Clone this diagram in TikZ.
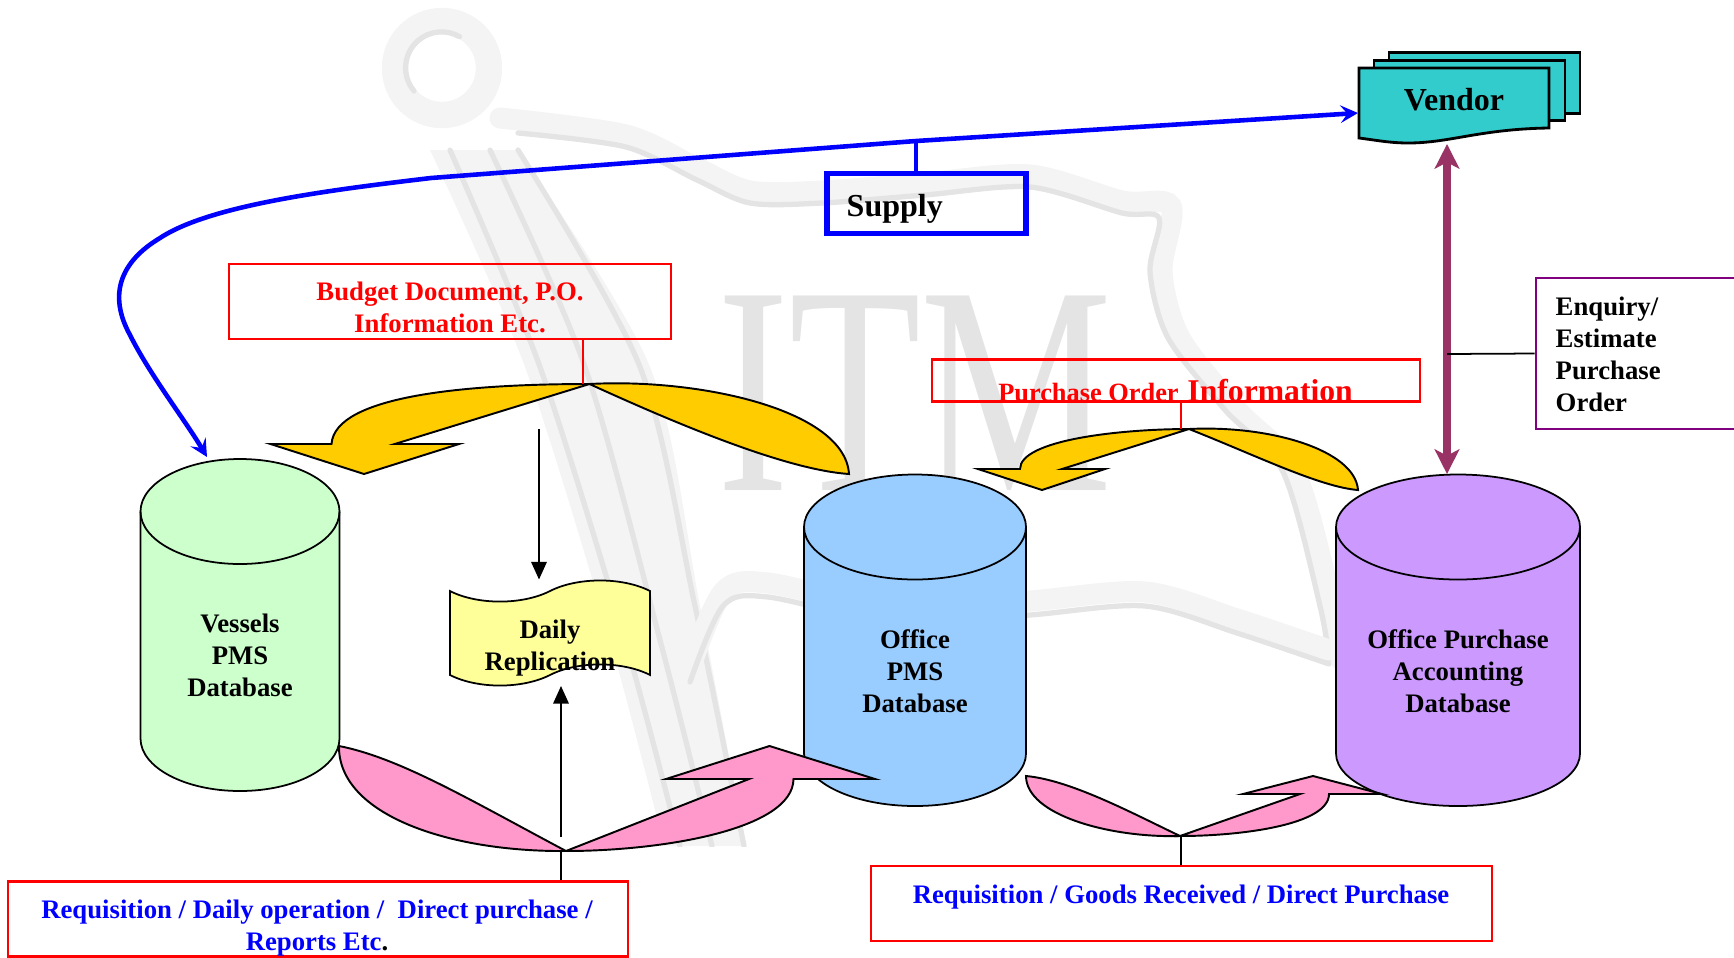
\documentclass[tikz,border=0pt]{standalone}
\usepackage{fontspec}
\setmainfont{Liberation Serif}
\usepackage{tikz}
\usetikzlibrary{arrows.meta,shapes.symbols}
\definecolor{dbgreen}{RGB}{204,255,204}
\definecolor{dbblue}{RGB}{153,204,255}
\definecolor{dbpurple}{RGB}{204,153,255}
\definecolor{tapeyellow}{RGB}{255,255,153}
\definecolor{arrowgold}{RGB}{255,204,0}
\definecolor{arrowpink}{RGB}{255,153,204}
\definecolor{vendorteal}{RGB}{51,204,204}
\definecolor{linkplum}{RGB}{153,51,102}
\definecolor{boxpurple}{RGB}{128,0,128}
\definecolor{markgray}{RGB}{228,228,228}
\definecolor{marklight}{RGB}{244,244,244}
\tikzstyle{boldtext} = [font=\fontsize{7.6}{9.1}\selectfont\bfseries, align=center]
\tikzstyle{redbox} = [rectangle, draw=red, line width=0.6pt]
\tikzstyle{bigarrow} = [draw=black, line width=0.55pt, line join=miter, miter limit=8]
\tikzstyle{vendorbox} = [rectangle, draw=black, line width=0.8pt, fill=vendorteal]
\tikzstyle{thinlink} = [draw=black, line width=0.5pt]
\tikzstyle{faintmark} = [draw=markgray, line width=1.5pt, line cap=round]
\tikzstyle{faintband} = [draw=marklight, line width=6pt, line cap=round]
\begin{document}
\begin{tikzpicture}[x=0.01cm,y=-0.01cm]
    \useasboundingbox (0,0) rectangle (1734,957);
    \clip (0,0) rectangle (1734,957);

    % Faint anchor mark behind everything
    \begin{scope}
        \clip (0,0) rectangle (1734,846);
        \draw[faintband, line width=7.5pt] (442,68) circle (47);
        \draw[faintmark] (414,91) arc (140:300:36);
        \fill[marklight] plot[smooth] coordinates {(430,150) (525,367) (610,640) (664,846)} -- plot[smooth] coordinates {(746,846) (700,606) (650,367) (518,150)} -- cycle;
        \draw[faintmark] plot[smooth] coordinates {(450,150) (540,367) (625,640) (680,846)};
        \draw[faintmark] plot[smooth] coordinates {(490,150) (585,367) (660,640) (712,846)};
        \draw[faintmark] plot[smooth] coordinates {(518,150) (640,367) (695,606) (744,846)};
        \draw[faintband] plot[smooth] coordinates {(500,118) (626,135) (697,168) (750,191) (822,191) (925,183) (1030,175) (1122,201) (1171,206) (1162,272) (1180,338) (1237,410) (1295,472) (1332,606) (1341,660)};
        \draw[faintmark] plot[smooth] coordinates {(518,133) (626,147) (697,180) (750,203) (822,203) (925,195) (1030,187) (1122,213) (1159,218) (1150,272) (1168,338) (1225,410) (1283,472) (1320,606) (1329,660)};
        \draw[faintband] plot[smooth] coordinates {(690,668) (723,592) (768,583) (900,610) (1030,601) (1145,592) (1237,619) (1329,650)};
        \draw[faintmark] plot[smooth] coordinates {(690,682) (723,606) (768,597) (900,624) (1030,615) (1145,606) (1237,633) (1329,664)};
        \node[text=markgray, font=\fontsize{84.5}{84.5}\selectfont, xscale=0.726, anchor=base, inner sep=0pt] (logo) at (915,490) {ITM};
    \end{scope}

    % Databases
    \foreach \cx/\rx/\ytop/\ybot/\col in {240/99.5/459/791/dbgreen,915/111/474.5/806/dbblue,1458/122/474.5/806/dbpurple}
    {
        \draw[black, line width=0.5pt, fill=\col] (\cx-\rx,\ytop+52.5) arc[start angle=180, end angle=360, x radius=\rx, y radius=52.5] -- (\cx+\rx,\ybot-52.5) arc[start angle=0, end angle=180, x radius=\rx, y radius=52.5] -- cycle;
        \draw[black, line width=0.5pt] (\cx+\rx,\ytop+52.5) arc[start angle=0, end angle=180, x radius=\rx, y radius=52.5];
    }
    \node[boldtext] (vessels) at (240,655) {Vessels\\PMS\\Database};
    \node[boldtext] (office) at (915,671) {Office\\PMS\\Database};
    \node[boldtext] (account) at (1458,671) {Office Purchase\\Accounting\\Database};

    % Daily replication tape
    \node[tape, draw=black, line width=0.5pt, fill=tapeyellow, tape bend top=in and out, tape bend bottom=in and out, tape bend height=6pt, minimum width=2cm, minimum height=1.05cm, inner sep=0pt] (tape) at (550,633) {};
    \node[boldtext] (tapetxt) at (550,648) {Daily\\Replication};

    % Vendor stack
    \node[vendorbox, minimum width=1.91cm, minimum height=0.605cm] (vendorc) at (1484.5,83) {};
    \node[vendorbox, minimum width=1.91cm, minimum height=0.605cm] (vendorb) at (1469.5,90.5) {};
    \draw[vendorbox] (1359,68) -- (1549,68) -- (1549,128) .. controls (1480,129) and (1450,143) .. (1408,143) .. controls (1390,143) and (1375,140) .. (1359,138) -- cycle;
    \node[font=\fontsize{9.1}{11}\selectfont\bfseries] (vendor) at (1454,100) {Vendor};
    \coordinate (vendorw) at (1358,113);
    \coordinate (vendors) at (1447,144);
    \coordinate (accountn) at (1447,474);
    \coordinate (vesselsn) at (207,457);
    \coordinate (supplyup) at (916,141);
    \coordinate (enquiryout) at (1447,354);

    % Supply link
    \node[rectangle, draw=blue, line width=1.5pt, minimum width=1.99cm, minimum height=0.6cm] (supply) at (926.5,203.5) {};
    \node[font=\fontsize{9.1}{11}\selectfont\bfseries, anchor=base west, inner sep=0pt] (supplytxt) at (846,216) {Supply};
    \draw[blue, line width=1.1pt] (supplyup) -- (supply.north -| supplyup);
    \draw[blue, line width=1.3pt, {Stealth[length=5pt,width=5pt,inset=2pt]}-{Stealth[length=5pt,width=5pt,inset=2pt]}] (vendorw) -- (supplyup) -- (431,178) .. controls (330,190) and (210,205) .. (160,238) .. controls (120,262) and (108,295) .. (130,335) .. controls (150,375) and (185,420) .. (vesselsn);

    % Vendor to accounting
    \draw[linkplum, line width=2.3pt, {Stealth[length=7pt,width=7pt,inset=1.8pt]}-{Stealth[length=7pt,width=7pt,inset=1.8pt]}] (vendors) -- (accountn);
    \node[rectangle, draw=boxpurple, line width=0.7pt, minimum width=2.24cm, minimum height=1.51cm] (enquiry) at (1648,353.5) {};
    \node[boldtext, align=left, anchor=base west, inner sep=0pt] (enquirytxt) at (1555,411) {Enquiry/\\Estimate\\Purchase\\Order};
    \draw[thinlink] (enquiryout) -- (enquiry.west);

    % Gold arrows
    \coordinate (goldbig) at (589.5,384);
    \coordinate (goldsmall) at (1189,429);
    \draw[bigarrow, fill=arrowgold] (goldbig) .. controls (470,384) and (335,395) .. (331.5,444) -- (270.5,444) -- (364,474) -- (459,444) -- (394.7,444) -- cycle;
    \draw[bigarrow, fill=arrowgold] (goldbig) .. controls (700,378) and (845,410) .. (849,474) .. controls (790,470) and (690,430) .. cycle;
    \draw[bigarrow, fill=arrowgold] (goldsmall) .. controls (1120,429) and (1020,440) .. (1020,469) -- (978,469) -- (1042,490) -- (1105,469) -- (1062,469) -- cycle;
    \draw[bigarrow, fill=arrowgold] (goldsmall) .. controls (1270,425) and (1355,450) .. (1358,490) .. controls (1320,487) and (1255,455) .. cycle;

    % Pink arrows
    \coordinate (pinkbig) at (566,851);
    \coordinate (pinksmall) at (1180,836);
    \draw[bigarrow, fill=arrowpink] (pinkbig) .. controls (450,852) and (338,815) .. (339,746) .. controls (400,758) and (470,800) .. cycle;
    \draw[bigarrow, fill=arrowpink] (pinkbig) .. controls (660,851) and (793,830) .. (793.5,779) -- (875,779) -- (769.5,746) -- (666,779) -- (749,779) -- cycle;
    \draw[bigarrow, fill=arrowpink] (pinksmall) .. controls (1110,838) and (1026,815) .. (1026,776) .. controls (1070,780) and (1130,812) .. cycle;
    \draw[bigarrow, fill=arrowpink] (pinksmall) .. controls (1240,836) and (1329,825) .. (1329,794) -- (1382,794) -- (1313,776) -- (1243,794) -- (1300,794) -- cycle;

    % Red boxes
    \node[redbox, minimum width=4.42cm, minimum height=0.75cm] (budget) at (450,301.5) {};
    \node[boldtext, text=red] (budgettxt) at (450,307) {Budget Document, P.O.\\Information Etc.};
    \node[redbox, minimum width=4.88cm, minimum height=0.42cm] (order) at (1176,380.5) {};
    \node[font=\bfseries, text=red, anchor=base, inner sep=0pt] (ordertxt) at (1175.5,401) {{\fontsize{7.5}{9}\selectfont Purchase Order} {\fontsize{9}{10}\selectfont Information}};
    \node[redbox, minimum width=6.2cm, minimum height=0.75cm] (reqdaily) at (318,919) {};
    \node[boldtext, text=blue] (reqdailytxt) at (317,928) {Requisition / Daily operation /~~Direct purchase /\\Reports Etc\textcolor{black}{.}};
    \node[redbox, minimum width=6.21cm, minimum height=0.75cm] (reqgoods) at (1181.5,903.5) {};
    \node[boldtext, text=blue] (reqgoodstxt) at (1181,897) {Requisition / Goods Received / Direct Purchase};

    % Links to the arrows and the tape
    \coordinate (budgetlink) at (583,384);
    \coordinate (orderlink) at (1181,429);
    \coordinate (pinkleftup) at (561,837);
    \coordinate (pinkrightup) at (1181,836);
    \coordinate (tapein) at (539,429);
    \coordinate (tapeintip) at (539,579.5);
    \coordinate (tapeouttip) at (561,686);
    \draw[red, line width=0.6pt] (budget.south -| budgetlink) -- (budgetlink);
    \draw[red, line width=0.6pt] (order.south -| orderlink) -- (orderlink);
    \draw[thinlink] (pinkbig -| pinkleftup) -- (reqdaily.north -| pinkleftup);
    \draw[thinlink] (pinkrightup) -- (reqgoods.north -| pinkrightup);
    \draw[thinlink, -{Stealth[length=5pt,width=4.4pt,inset=0pt]}] (tapein) -- (tapeintip);
    \draw[thinlink, -{Stealth[length=5pt,width=4.4pt,inset=0pt]}] (pinkleftup) -- (tapeouttip);
\end{tikzpicture}
\end{document}
